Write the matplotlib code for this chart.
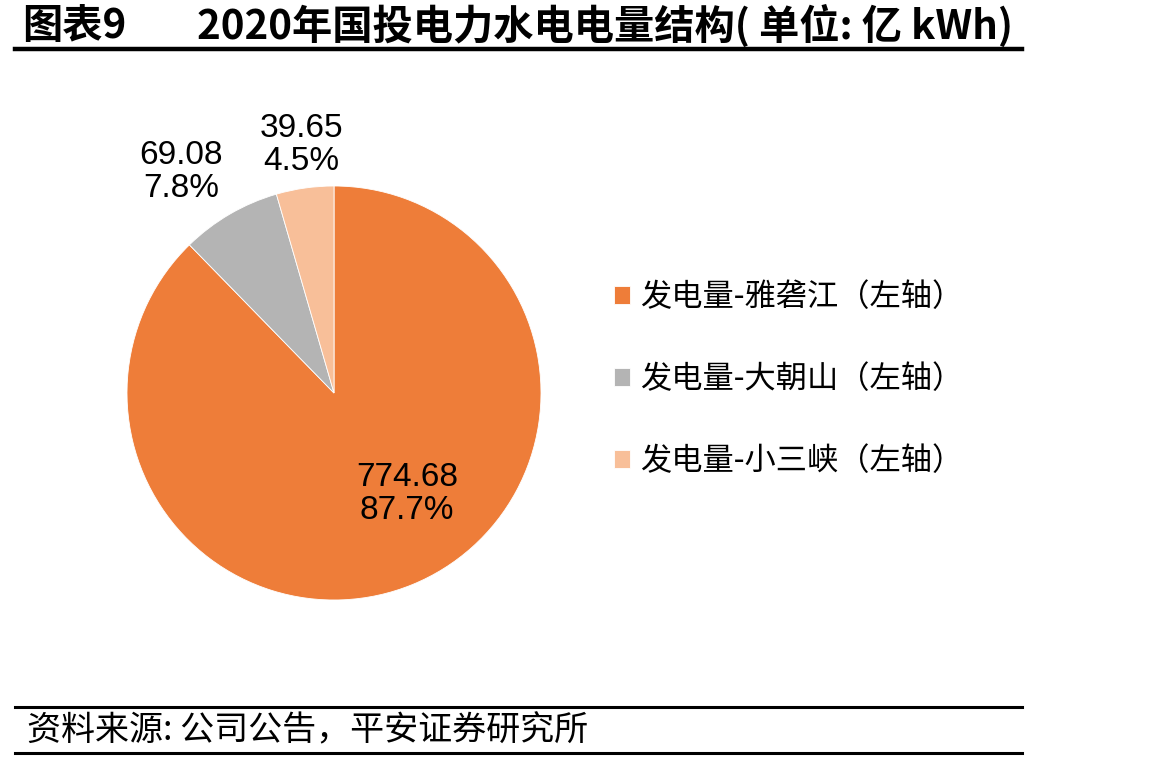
import matplotlib
matplotlib.use('Agg')
import matplotlib.pyplot as plt
from matplotlib.lines import Line2D

plt.rcParams['font.family'] = ['Noto Sans CJK SC', 'DejaVu Sans']

# data
names = ['发电量-雅砻江（左轴）', '发电量-大朝山（左轴）', '发电量-小三峡（左轴）']
values = [774.68, 69.08, 39.65]
colors = ['#EE7D39', '#B4B4B4', '#F8BF99']
# label centres in pie data units (radius = 1)
label_pos = [(0.353, -0.488), (-0.739, 1.068), (-0.159, 1.198)]

W, H = 1176, 765
fig = plt.figure(figsize=(W / 100, H / 100), dpi=100)

# pie axes: centre (334, 393) px, radius 207 px
cx, cy, r = 334, 393, 207
ax = fig.add_axes([(cx - r) / W, (H - cy - r) / H, 2 * r / W, 2 * r / H])
wedges, _ = ax.pie(values, colors=colors, startangle=90, counterclock=False,
                   wedgeprops=dict(edgecolor='white', linewidth=0.6))
ax.set_xlim(-1, 1)
ax.set_ylim(-1, 1)
ax.set_aspect('equal')
ax.axis('off')

total = sum(values)
for v, (x, y) in zip(values, label_pos):
    ax.text(x, y, f'{v:.2f}\n{v / total * 100:.1f}%', ha='center', va='center',
            fontsize=24, family='Liberation Sans', linespacing=1.05,
            clip_on=False)

fig.legend(wedges, names, loc='center left', bbox_to_anchor=(614 / W, 1 - 379 / H),
           frameon=False, fontsize=22.5, handlelength=0.5, handleheight=0.5,
           handletextpad=0.33, labelspacing=1.6, borderpad=0, borderaxespad=0)

# title
fig.text(22 / W, 1 - 26 / H, '图表9', fontsize=29, fontweight='bold',
         ha='left', va='center')
fig.text(197 / W, 1 - 26 / H, '2020年国投电力水电电量结构( 单位: 亿 kWh)',
         fontsize=29, fontweight='bold', ha='left', va='center')

# rules
for y, lw in [(49, 3.2), (707, 2.2), (753, 2.2)]:
    fig.add_artist(Line2D([15 / W, 1022 / W], [1 - y / H, 1 - y / H],
                          color='black', linewidth=lw, transform=fig.transFigure))

fig.text(27 / W, 1 - 731 / H, '资料来源: 公司公告，平安证券研究所', fontsize=24.5,
         style='italic', ha='left', va='center')

fig.savefig('out.png', dpi=100)
